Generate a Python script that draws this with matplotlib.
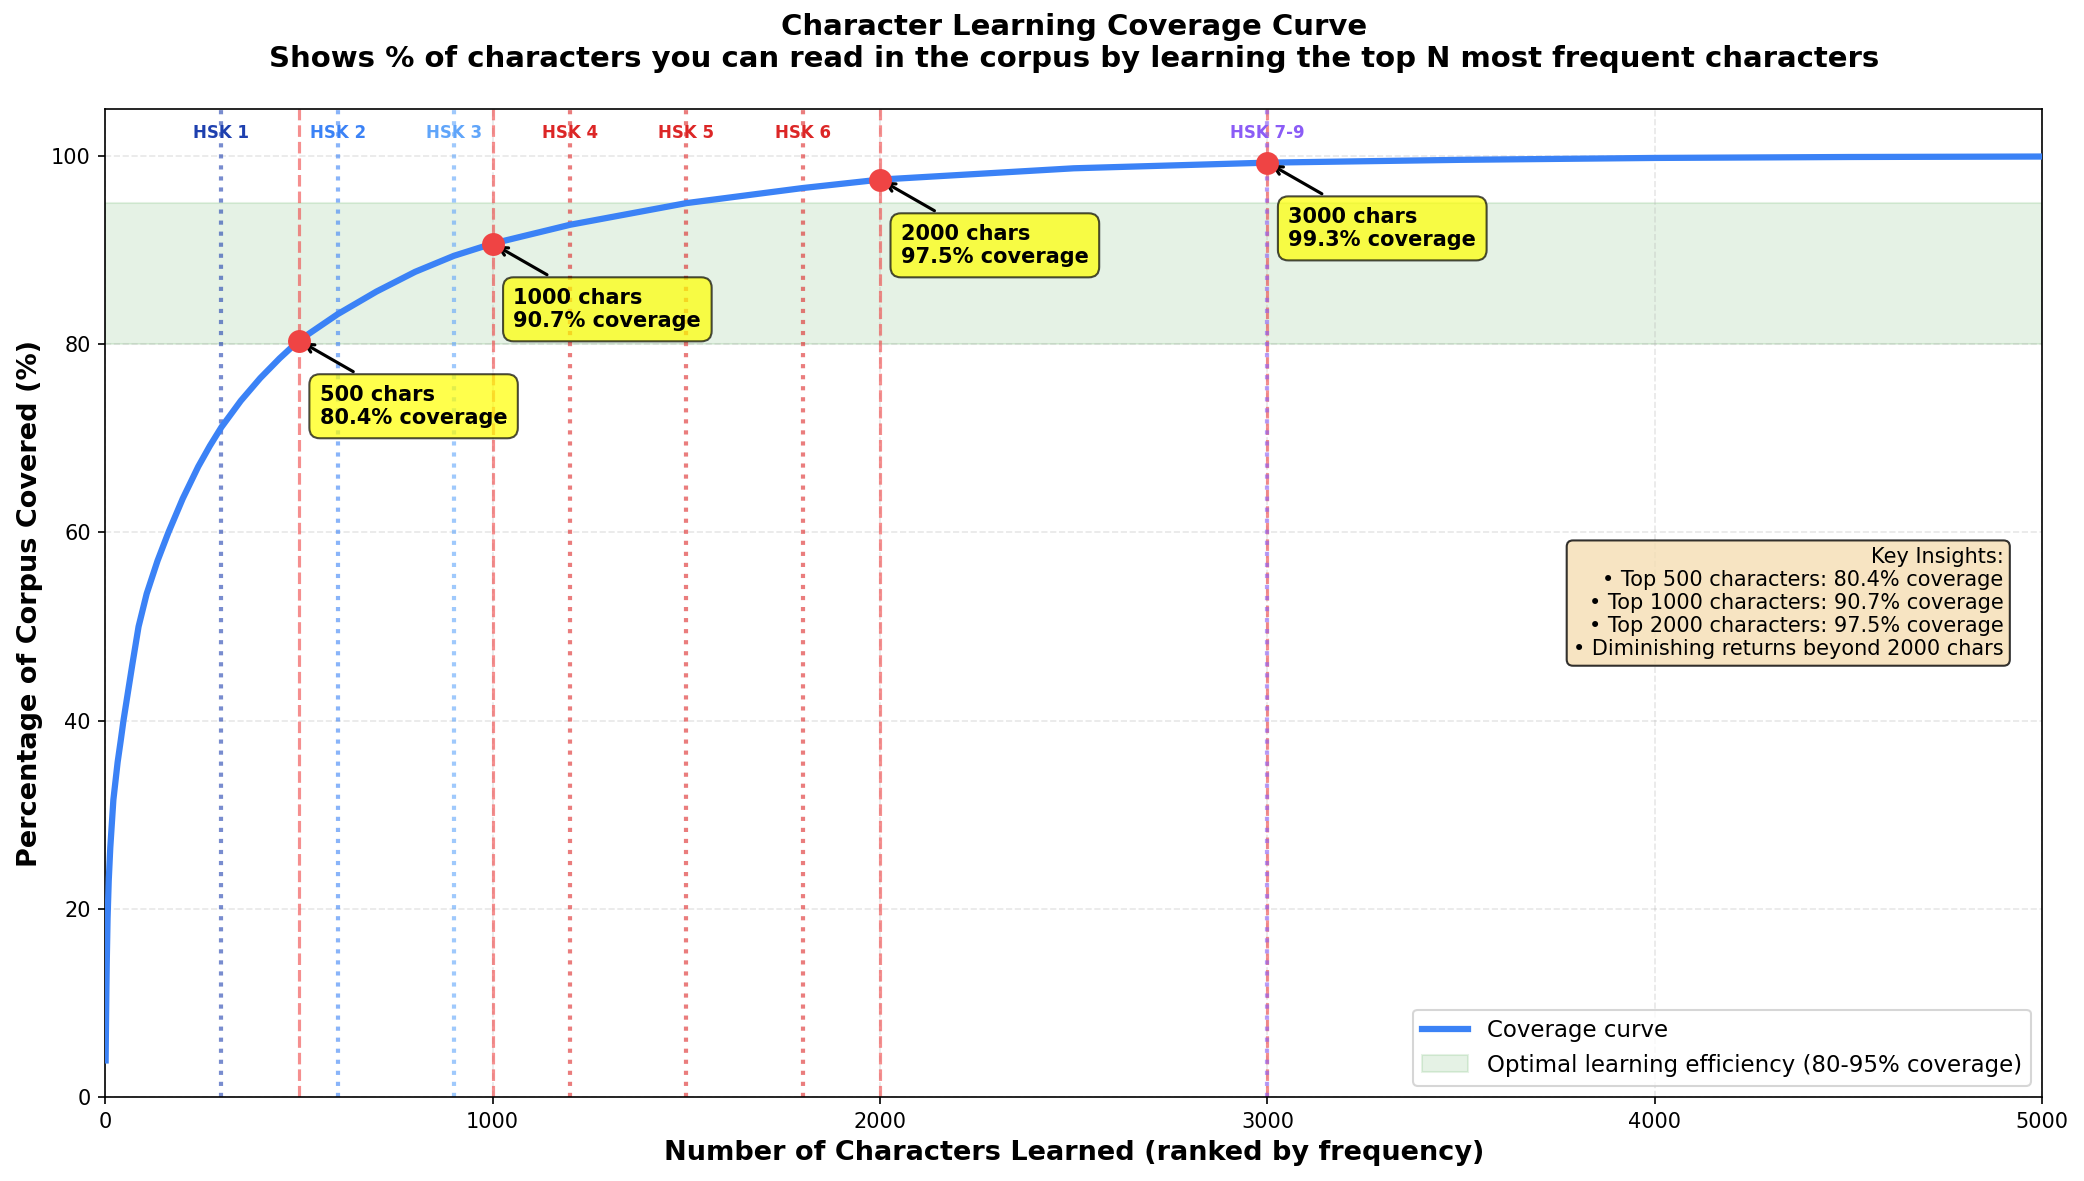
import numpy as np
import matplotlib.pyplot as plt

# coverage curve
chars = [1, 2, 3, 4, 6, 9, 13, 21, 32, 40, 47, 60, 70, 86, 107, 135, 163,
         200, 240, 270, 300, 350, 400, 450, 500, 600, 700, 800, 900, 1000,
         1200, 1500, 1800, 2000, 2500, 3000, 3500, 4000, 4500, 5000]
coverage = [3.9, 8.0, 11.5, 14.5, 19.0, 23.0, 26.5, 31.6, 35.6, 37.9, 40.0,
            43.4, 46.0, 50.0, 53.5, 57.0, 60.0, 63.6, 67.0, 69.2, 71.2, 74.0,
            76.4, 78.5, 80.4, 83.2, 85.6, 87.7, 89.4, 90.7, 92.7, 95.0, 96.6,
            97.5, 98.7, 99.3, 99.6, 99.8, 99.9, 99.95]

milestone_chars = [500, 1000, 2000, 3000]
milestone_cov = [80.4, 90.7, 97.5, 99.3]

hsk_labels = ['HSK 1', 'HSK 2', 'HSK 3', 'HSK 4', 'HSK 5', 'HSK 6', 'HSK 7-9']
hsk_chars = [300, 600, 900, 1200, 1500, 1800, 3000]
hsk_colors = ['#1e40af', '#3b82f6', '#60a5fa', '#dc2626', '#dc2626', '#dc2626', '#8b5cf6']

fig = plt.figure(figsize=(2084 / 150, 1181 / 150), dpi=150)
ax = fig.add_subplot(111)
fig.subplots_adjust(left=0.0505, right=0.980, bottom=0.071, top=0.9077)

ax.plot(chars, coverage, color='#3b82f6', linewidth=3, label='Coverage curve', zorder=3)
ax.axhspan(80, 95, color='green', alpha=0.1, label='Optimal learning efficiency (80-95% coverage)')

for n, c in zip(milestone_chars, milestone_cov):
    ax.axvline(n, color='#ef4444', linestyle='--', alpha=0.6, linewidth=1.5)
    ax.plot(n, c, 'o', color='#ef4444', markersize=10, zorder=5)
    ax.annotate(f'{n} chars\n{c}% coverage', xy=(n, c), xytext=(10, -40),
                textcoords='offset points', fontsize=10, fontweight='bold',
                bbox=dict(boxstyle='round,pad=0.5', facecolor='yellow', alpha=0.7),
                arrowprops=dict(arrowstyle='->', color='black', lw=1.5))

for lab, n, col in zip(hsk_labels, hsk_chars, hsk_colors):
    ax.axvline(n, color=col, linestyle=':', alpha=0.6, linewidth=2)
    ax.text(n, 102.5, lab, ha='center', va='center', fontsize=8,
            fontweight='bold', color=col)

insights = ('Key Insights:\n'
            '• Top 500 characters: 80.4% coverage\n'
            '• Top 1000 characters: 90.7% coverage\n'
            '• Top 2000 characters: 97.5% coverage\n'
            '• Diminishing returns beyond 2000 chars')
ax.text(0.98, 0.5, insights, transform=ax.transAxes, ha='right', va='center',
        fontsize=10, bbox=dict(boxstyle='round', facecolor='wheat', alpha=0.8))

ax.set_xlim(0, 5000)
ax.set_ylim(0, 105)
ax.set_xlabel('Number of Characters Learned (ranked by frequency)', fontsize=13, fontweight='bold')
ax.set_ylabel('Percentage of Corpus Covered (%)', fontsize=13, fontweight='bold')
ax.set_title('Character Learning Coverage Curve\n'
             'Shows % of characters you can read in the corpus by learning the top N most frequent characters',
             fontsize=14, fontweight='bold', pad=20)
ax.grid(True, alpha=0.3, linestyle='--')
ax.legend(loc='lower right', fontsize=11)

fig.savefig('out.png', dpi=150)
